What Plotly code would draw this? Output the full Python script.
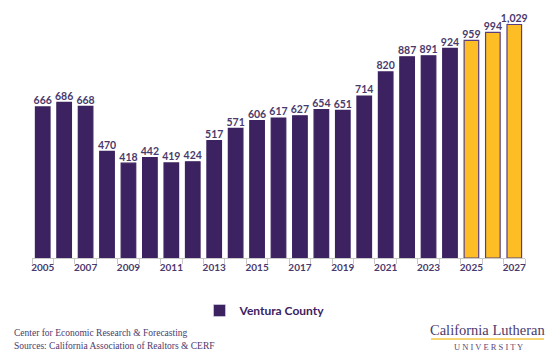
import plotly.graph_objects as go

years = list(range(2005, 2028))
values = [666, 686, 668, 470, 418, 442, 419, 424, 517, 571, 606, 617, 627,
          654, 651, 714, 820, 887, 891, 924, 959, 994, 1029]
forecast_start = 2025
series_name = "Ventura County"
tick_years = list(range(2005, 2028, 2))

purple = "#3c2260"
gold = "#fdbe25"
text_purple = "#4a3a6c"

W, H = 550, 356
ML, MR, MT, MB = 32, 25, 10, 98
PW, PH = W - ML - MR, H - MT - MB


def px(x):
    return (x - ML) / PW


def py(y):
    return 1 - (y - MT) / PH


bar_colors = [gold if y >= forecast_start else purple for y in years]
line_colors = ["#5a3f80" if y >= forecast_start else purple for y in years]

fig = go.Figure()
fig.add_trace(go.Bar(
    x=years, y=values, name=series_name,
    marker=dict(color=bar_colors, line=dict(color=line_colors, width=1.2)),
    width=0.68, showlegend=False, hoverinfo="skip",
))
fig.add_trace(go.Scatter(
    x=years, y=values, mode="text",
    text=[f"{v:,}" for v in values], textposition="top center",
    textfont=dict(family="Lato", size=10.5, color=text_purple, weight="bold"),
    showlegend=False, cliponaxis=False,
))
# legend entry
fig.add_trace(go.Bar(x=[None], y=[None], name=series_name,
                     marker=dict(color=purple), showlegend=True))

fig.update_layout(
    width=W, height=H,
    margin=dict(l=ML, r=MR, t=MT, b=MB),
    paper_bgcolor="white", plot_bgcolor="white",
    font=dict(family="Lato", color=text_purple),
    showlegend=True,
    legend=dict(orientation="h", x=px(265), xanchor="center", y=py(296), yanchor="top",
                font=dict(family="Lato", size=12, color=purple, weight="bold"),
                itemwidth=30),
    xaxis=dict(range=[2004.5, 2027.5], tickmode="array", tickvals=tick_years,
               ticktext=[str(y) for y in tick_years],
               tickfont=dict(family="Lato", size=10, color=text_purple, weight="bold"),
               showline=True, linecolor="#c8c8c8", linewidth=1,
               ticks="", showgrid=False, zeroline=False,
               minor=dict(tickvals=[y + 0.5 for y in range(2004, 2028)],
                          ticks="outside", ticklen=5, tickcolor="#c8c8c8", showgrid=False)),
    yaxis=dict(range=[0, 1093], visible=False, showgrid=False),
)

anns = [
    dict(text="Center for Economic Research &amp; Forecasting", x=12, y=333, size=9.5,
         family="Liberation Serif", color="#4a3a6c", xanchor="left"),
    dict(text="Sources: California Association of Realtors &amp; CERF", x=12, y=346, size=9.5,
         family="Liberation Serif", color="#4a3a6c", xanchor="left"),
    dict(text="California Lutheran", x=487, y=330, size=14.5,
         family="Liberation Serif", color="#4a3a6c", xanchor="center"),
    dict(text="U N I V E R S I T Y", x=488, y=347, size=8.5,
         family="Liberation Serif", color="#5a4a78", xanchor="center"),
]
for a in anns:
    fig.add_annotation(
        text=a["text"], xref="paper", yref="paper",
        x=px(a["x"]), y=py(a["y"]),
        xanchor=a["xanchor"], yanchor="middle", showarrow=False,
        font=dict(family=a["family"], size=a["size"], color=a["color"]),
    )

fig.add_shape(type="line", xref="paper", yref="paper",
              x0=px(431), x1=px(544), y0=py(339), y1=py(339),
              line=dict(color="#f5c842", width=1.5))

fig.write_html("out.html")
